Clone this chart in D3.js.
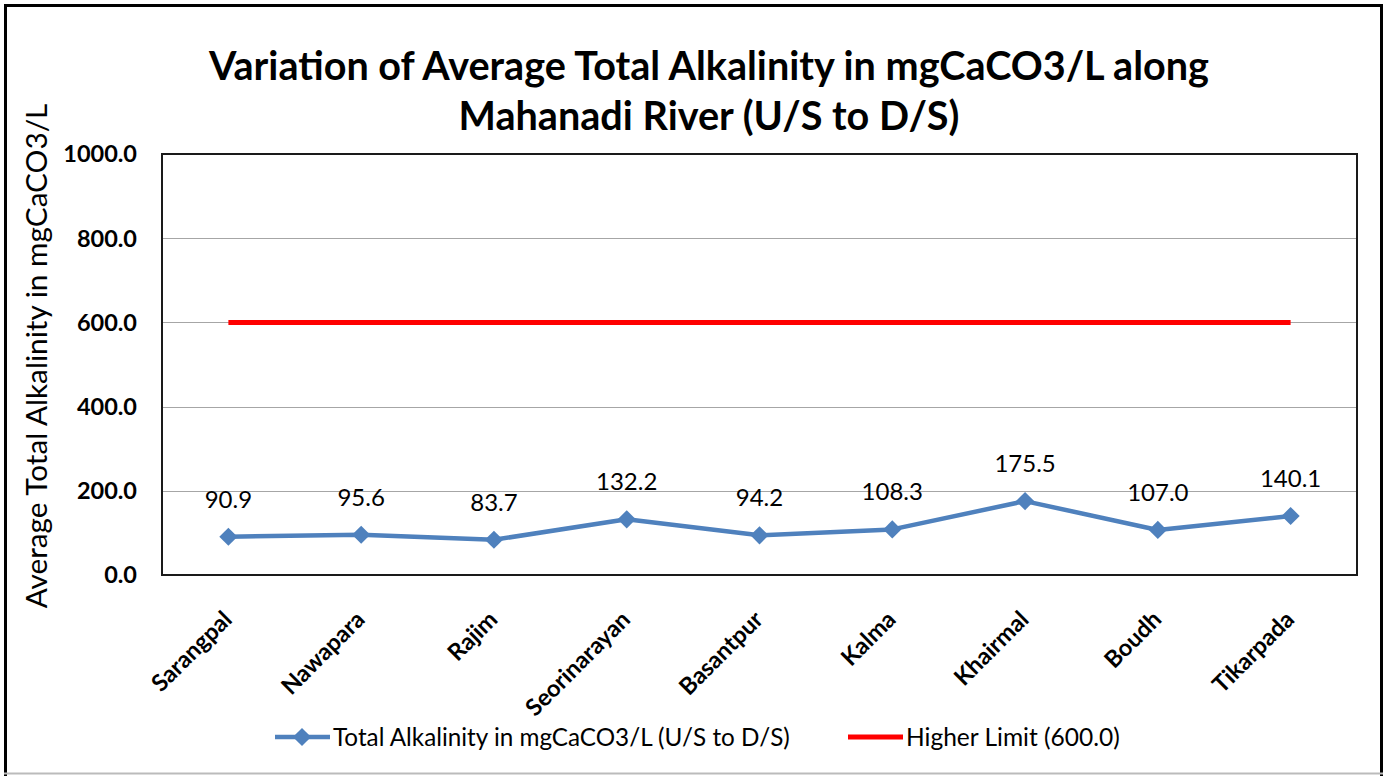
<!DOCTYPE html>
<html>
<head>
<style>
  body { margin: 0; background: #fff; }
  text { font-family: Lato, "Open Sans", sans-serif; fill: #000; }
  .grid line { stroke: #a6a6a6; stroke-width: 1px; }
</style>
</head>
<body>
<script src="https://cdn.jsdelivr.net/npm/d3@7"></script>
<script>
// Data
var sites = ["Sarangpal", "Nawapara", "Rajim", "Seorinarayan", "Basantpur", "Kalma", "Khairmal", "Boudh", "Tikarpada"];
var alkalinity = [90.9, 95.6, 83.7, 132.2, 94.2, 108.3, 175.5, 107.0, 140.1];
var higherLimit = 600.0;
var yTicks = [0, 200, 400, 600, 800, 1000];

var W = 1392, H = 776;
var plot = { left: 162, right: 1357, top: 154, bottom: 575 };
var blue = "#4f81bd", red = "#ff0000";

var svg = d3.select("body").append("svg")
    .attr("width", W)
    .attr("height", H);

// scale font size so a text fits a target width
function fit(sel, target) {
    var size = parseFloat(sel.style("font-size"));
    var w = sel.node().getComputedTextLength();
    sel.style("font-size", (size * target / w) + "px");
    return size * target / w;
}

// outer frame
svg.append("rect")
    .attr("x", 5.5).attr("y", 5.5)
    .attr("width", 1376).attr("height", 790)
    .attr("fill", "none")
    .attr("stroke", "#000")
    .attr("stroke-width", 3);
svg.append("line")
    .attr("x1", 4).attr("x2", 1383)
    .attr("y1", 773.5).attr("y2", 773.5)
    .attr("stroke", "#bbb").attr("stroke-width", 2);

var x = d3.scalePoint().domain(sites).range([plot.left, plot.right]).padding(0.5);
var y = d3.scaleLinear().domain([0, 1000]).range([plot.bottom, plot.top]);

// gridlines
svg.append("g").attr("class", "grid")
    .selectAll("line")
    .data(yTicks.filter(function (d) { return d > 0 && d < 1000; }))
    .enter().append("line")
    .attr("x1", plot.left).attr("x2", plot.right)
    .attr("y1", function (d) { return Math.round(y(d)) + 0.5; })
    .attr("y2", function (d) { return Math.round(y(d)) + 0.5; });

// plot border
svg.append("rect")
    .attr("x", plot.left).attr("y", plot.top)
    .attr("width", plot.right - plot.left)
    .attr("height", plot.bottom - plot.top)
    .attr("fill", "none")
    .attr("stroke", "#1a1a1a")
    .attr("stroke-width", 2);

// y tick labels
svg.append("g")
    .selectAll("text")
    .data(yTicks)
    .enter().append("text")
    .attr("x", 137)
    .attr("y", function (d) { return y(d); })
    .attr("dy", "0.36em")
    .attr("text-anchor", "end")
    .style("font-size", "23.5px")
    .style("font-weight", "bold")
    .text(function (d) { return d3.format(".1f")(d); });

// x labels, rotated
svg.append("g")
    .selectAll("text")
    .data(sites)
    .enter().append("text")
    .attr("text-anchor", "end")
    .attr("transform", function (d) {
        return "translate(" + (x(d) + 5) + ",621) rotate(-45)";
    })
    .style("font-size", "23.5px")
    .style("font-weight", "bold")
    .text(function (d) { return d; });

// higher limit line
svg.append("line")
    .attr("x1", x(sites[0])).attr("x2", x(sites[sites.length - 1]))
    .attr("y1", y(higherLimit)).attr("y2", y(higherLimit))
    .attr("stroke", red)
    .attr("stroke-width", 5);

// alkalinity series
var line = d3.line()
    .x(function (d, i) { return x(sites[i]); })
    .y(function (d) { return y(d); });

svg.append("path")
    .datum(alkalinity)
    .attr("d", line)
    .attr("fill", "none")
    .attr("stroke", blue)
    .attr("stroke-width", 4.5)
    .attr("stroke-linejoin", "round");

var diamond = d3.symbol().type(d3.symbolSquare).size(165);
svg.append("g")
    .selectAll("path")
    .data(alkalinity)
    .enter().append("path")
    .attr("d", diamond)
    .attr("fill", blue)
    .attr("transform", function (d, i) {
        return "translate(" + x(sites[i]) + "," + y(d) + ") rotate(45)";
    });

// data labels
svg.append("g")
    .selectAll("text")
    .data(alkalinity)
    .enter().append("text")
    .attr("x", function (d, i) { return x(sites[i]); })
    .attr("y", function (d) { return y(d) - 29; })
    .attr("text-anchor", "middle")
    .style("font-size", "24px")
    .text(function (d) { return d3.format(".1f")(d); });

// title
var t1 = svg.append("text")
    .attr("x", 709).attr("y", 80)
    .attr("text-anchor", "middle")
    .style("font-size", "34px")
    .style("font-weight", "bold")
    .text("Variation of Average Total Alkalinity in mgCaCO3/L along");
var ts = fit(t1, 1000);
svg.append("text")
    .attr("x", 709).attr("y", 130)
    .attr("text-anchor", "middle")
    .style("font-size", ts + "px")
    .style("font-weight", "bold")
    .text("Mahanadi River (U/S to D/S)");

// y axis title
var yt = svg.append("text")
    .attr("transform", "translate(47,356) rotate(-90)")
    .attr("text-anchor", "middle")
    .style("font-size", "26px")
    .text("Average Total Alkalinity in mgCaCO3/L");
fit(yt, 505);

// legend
var legY = 737;
var leg1 = svg.append("g");
leg1.append("line")
    .attr("x1", 275).attr("x2", 330)
    .attr("y1", legY).attr("y2", legY)
    .attr("stroke", blue).attr("stroke-width", 4.5);
leg1.append("path")
    .attr("d", diamond)
    .attr("fill", blue)
    .attr("transform", "translate(302," + legY + ") rotate(45)");
var l1 = leg1.append("text")
    .attr("x", 333).attr("y", legY)
    .attr("dy", "0.36em")
    .style("font-size", "20px")
    .text("Total Alkalinity in mgCaCO3/L (U/S to D/S)");
fit(l1, 457);

var leg2 = svg.append("g");
leg2.append("line")
    .attr("x1", 848).attr("x2", 903)
    .attr("y1", legY).attr("y2", legY)
    .attr("stroke", red).attr("stroke-width", 5);
var l2 = leg2.append("text")
    .attr("x", 906).attr("y", legY)
    .attr("dy", "0.36em")
    .style("font-size", "20px")
    .text("Higher Limit (600.0)");
fit(l2, 214);
</script>
</body>
</html>
